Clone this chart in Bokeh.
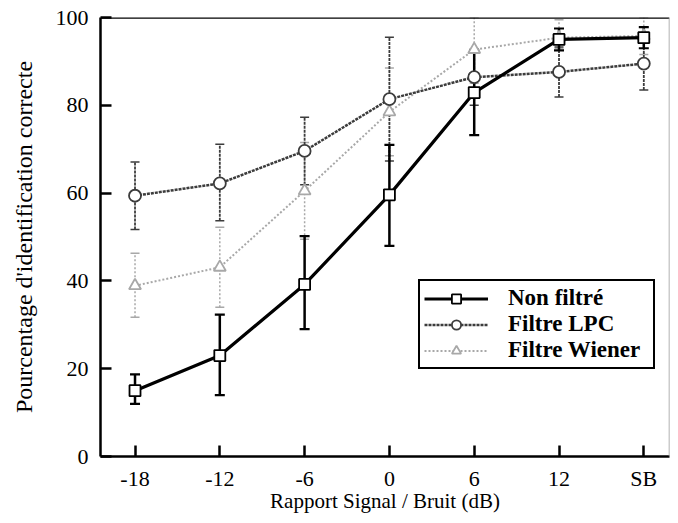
from bokeh.plotting import figure
from bokeh.models import (Range1d, FixedTicker, Whisker, ColumnDataSource, Legend,
                          LegendItem, Span)
from bokeh.embed import file_html
from bokeh.resources import INLINE

x_labels = ["-18", "-12", "-6", "0", "6", "12", "SB"]
x_pos = [0, 1, 2, 3, 4, 5, 6]

non_filtre = [15.0, 23.0, 39.2, 59.6, 82.9, 95.0, 95.4]
non_filtre_lo = [12.0, 14.0, 29.0, 48.0, 73.2, 92.5, 93.0]
non_filtre_hi = [18.7, 32.3, 50.2, 71.0, 92.5, 97.5, 97.8]

lpc = [59.4, 62.2, 69.6, 81.4, 86.4, 87.6, 89.5]
lpc_lo = [51.7, 53.7, 61.9, 67.3, 80.0, 81.9, 83.5]
lpc_hi = [67.1, 71.1, 77.3, 95.5, 92.8, 93.3, 95.5]

wiener = [38.9, 43.1, 60.5, 78.5, 92.7, 95.4, 95.8]
wiener_lo = [31.7, 34.0, 49.5, 68.5, 85.0, 93.0, 91.6]
wiener_hi = [46.3, 52.2, 71.5, 88.5, 100.0, 99.5, 100.0]

y_ticks = [0, 20, 40, 60, 80, 100]

FONT = "Liberation Serif"
X_START, X_END = -0.407, 6.303

p = figure(width=670, height=515, output_backend="svg", toolbar_location=None,
           x_range=Range1d(X_START, X_END), y_range=Range1d(0, 100),
           min_border_left=100, min_border_right=1, min_border_top=17,
           min_border_bottom=58)
p.outline_line_color = None
p.grid.visible = False
p.background_fill_color = "white"

# axes
for ax in (p.xaxis[0], p.yaxis[0]):
    ax.axis_line_width = 2.5
    ax.axis_line_color = "black"
    ax.major_tick_line_width = 2.5
    ax.major_tick_in = 11
    ax.major_tick_out = 0
    ax.minor_tick_line_color = None
    ax.major_label_text_font = FONT
    ax.major_label_text_font_size = "22px"
    ax.major_label_text_color = "black"
    ax.axis_label_text_font = FONT
    ax.axis_label_text_font_style = "normal"
    ax.axis_label_text_color = "black"

p.xaxis.ticker = FixedTicker(ticks=x_pos)
p.xaxis.major_label_overrides = {i: lab for i, lab in zip(x_pos, x_labels)}
p.xaxis.axis_label = "Rapport Signal / Bruit (dB)"
p.xaxis.axis_label_text_font_size = "21px"
p.xaxis.major_label_standoff = 9
p.xaxis.axis_label_standoff = -5

p.yaxis.ticker = FixedTicker(ticks=y_ticks)
p.yaxis.axis_label = "Pourcentage d'identification correcte"
p.yaxis.axis_label_text_font_size = "24px"
p.yaxis.major_label_standoff = 12
p.yaxis.axis_label_standoff = 16

# frame borders (top thick, right faint)
p.add_layout(Span(location=100, dimension="width", line_color="black", line_width=2.5))
p.add_layout(Span(location=X_END, dimension="height", line_color="#999999", line_width=1.5))

series = [
    ("Filtre Wiener", wiener, wiener_lo, wiener_hi, "#a8a8a8", "2 2", 2.0, "triangle", 12, 1.5),
    ("Filtre LPC", lpc, lpc_lo, lpc_hi, "#3c3c3c", "3 1", 2.5, "circle", 12, 1.8),
    ("Non filtré", non_filtre, non_filtre_lo, non_filtre_hi, "black", None, 3.2, "square", 11, 2.5),
]

items = {}
for name, vals, lo, hi, color, dash, lw, marker, size, elw in series:
    src = ColumnDataSource(dict(x=x_pos, y=vals, lo=lo, hi=hi))
    w = Whisker(source=src, base="x", upper="hi", lower="lo", dimension="height",
                line_color=color, line_width=elw,
                line_dash=dash if dash else "solid")
    for head in (w.upper_head, w.lower_head):
        head.size = 10 if not dash else 9
        head.line_color = color
        head.line_width = 2.2 if not dash else 1.5
    p.add_layout(w)
    ln = p.line("x", "y", source=src, line_color=color, line_width=lw,
                line_dash=dash if dash else "solid")
    sc = p.scatter("x", "y", source=src, marker=marker, size=size,
                   fill_color="white", line_color=color, line_width=1.8)
    items[name] = [ln, sc]

legend = Legend(items=[LegendItem(label=n, renderers=items[n])
                       for n in ["Non filtré", "Filtre LPC", "Filtre Wiener"]],
                location=(318, 87))
legend.label_text_font = FONT
legend.label_text_font_style = "bold"
legend.label_text_font_size = "23px"
legend.label_text_color = "black"
legend.glyph_width = 64
legend.glyph_height = 23
legend.label_height = 23
legend.label_width = 141
legend.label_standoff = 20
legend.spacing = 0
legend.padding = 4
legend.margin = 0
legend.border_line_color = "black"
legend.border_line_alpha = 1
legend.border_line_width = 2.5
legend.background_fill_alpha = 1
p.add_layout(legend)

open("out.html", "w").write(file_html(p, INLINE))
